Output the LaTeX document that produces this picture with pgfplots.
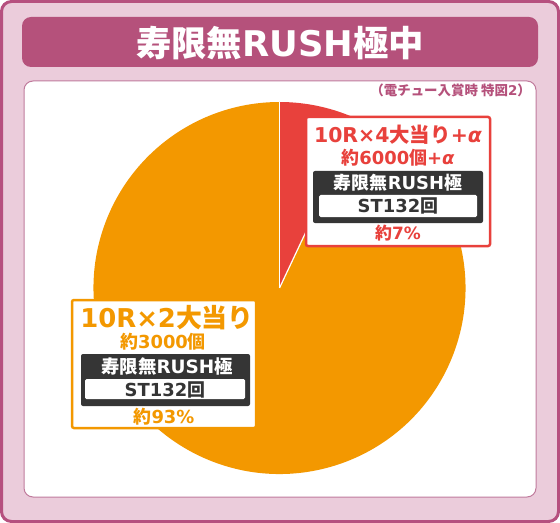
\documentclass[border=0pt]{standalone}
\usepackage{pgfplots}
\pgfplotsset{compat=1.18}
\usepackage{pgfplotstable}
\usepackage{fontspec}
\setmainfont{Noto Sans CJK JP}
\newfontfamily\latfont{DejaVu Sans}
\newcommand\la[1]{{\latfont\bfseries #1}}
\newcommand\alp{{\latfont\bfseries\itshape α}}

\definecolor{framebg}{HTML}{EBCCDB}
\definecolor{frameline}{HTML}{B6507F}
\definecolor{titlebar}{HTML}{B5517B}
\definecolor{panelline}{HTML}{C07A9C}
\definecolor{sliceorange}{HTML}{F39800}
\definecolor{slicered}{HTML}{E8413C}
\definecolor{darkbox}{HTML}{353535}

% share of each outcome, percent
\pgfplotstableread{
share
7
93
}\piedata

\begin{document}
\begin{tikzpicture}
\pgfplotstablegetelem{0}{share}\of\piedata
\pgfmathsetmacro\angA{90-3.6*\pgfplotsretval}
\pgfplotstablegetelem{1}{share}\of\piedata
\pgfmathsetmacro\angB{\angA-3.6*\pgfplotsretval}
\begin{axis}[x=1bp, y=1bp, xmin=0, xmax=560, ymin=0, ymax=523,
  y dir=reverse, hide axis, clip=false]
  % frame and title
  \filldraw[fill=framebg, draw=frameline, line width=3bp, rounded corners=10bp]
    (axis cs:1.5,1.5) rectangle (axis cs:558.5,521.5);
  \fill[titlebar, rounded corners=9bp] (axis cs:22,17) rectangle (axis cs:538,67);
  \node[text=white, inner sep=0, font=\fontsize{35.5}{35.5}\selectfont\bfseries]
    at (axis cs:280,43) {寿限無\la{RUSH}極中};
  \filldraw[fill=white, draw=panelline, line width=1bp, rounded corners=9bp]
    (axis cs:24,81) rectangle (axis cs:536,497);
  \node[text=titlebar, inner sep=0, anchor=east, font=\fontsize{13.5}{13.5}\selectfont\bfseries]
    at (axis cs:531,90) {（電チュー入賞時 特図\la{2}）};
  % pie
  \fill[sliceorange] (axis cs:279.5,288) -- ++(\angA:186bp)
    arc[start angle=\angA, end angle=\angB, radius=186bp] -- cycle;
  \fill[slicered] (axis cs:279.5,288) -- ++(90:186bp)
    arc[start angle=90, end angle=\angA, radius=186bp] -- cycle;
  \draw[white, line width=1.2bp] (axis cs:279.5,288) -- ++(90:186bp);
  \draw[white, line width=1.2bp] (axis cs:279.5,288) -- ++(\angA:186bp);
  % label 7%
  \filldraw[fill=white, draw=slicered, line width=2.5bp, rounded corners=2bp]
    (axis cs:306,117) rectangle (axis cs:490,246);
  \node[text=slicered, inner sep=0, font=\fontsize{20.5}{20.5}\selectfont\bfseries]
    at (axis cs:398,135) {\la{10R×4}大当り\la{+}\alp};
  \node[text=slicered, inner sep=0, font=\fontsize{18}{18}\selectfont\bfseries]
    at (axis cs:398,158) {約\la{6000}個\la{+}\alp};
  \fill[darkbox, rounded corners=2bp] (axis cs:313,171) rectangle (axis cs:483,223);
  \node[text=white, inner sep=0, font=\fontsize{18}{18}\selectfont\bfseries]
    at (axis cs:398,183) {寿限無\la{RUSH}極};
  \fill[white, rounded corners=1.5bp] (axis cs:319,195) rectangle (axis cs:477,217);
  \node[text=darkbox, inner sep=0, font=\fontsize{18}{18}\selectfont\bfseries]
    at (axis cs:398,206) {\la{ST132}回};
  \node[text=slicered, inner sep=0, font=\fontsize{17}{17}\selectfont\bfseries]
    at (axis cs:398,233) {約\la{7\%}};
  % label 93%
  \filldraw[fill=white, draw=sliceorange, line width=2.5bp, rounded corners=2bp]
    (axis cs:72,300) rectangle (axis cs:256,428);
  \node[text=sliceorange, inner sep=0, font=\fontsize{26}{26}\selectfont\bfseries]
    at (axis cs:167,318) {\la{10R×2}大当り};
  \node[text=sliceorange, inner sep=0, font=\fontsize{18}{18}\selectfont\bfseries]
    at (axis cs:163,342) {約\la{3000}個};
  \fill[darkbox, rounded corners=2bp] (axis cs:81,354) rectangle (axis cs:250,406);
  \node[text=white, inner sep=0, font=\fontsize{18.5}{18.5}\selectfont\bfseries]
    at (axis cs:167,366) {寿限無\la{RUSH}極};
  \fill[white, rounded corners=1.5bp] (axis cs:85,379) rectangle (axis cs:245,399);
  \node[text=darkbox, inner sep=0, font=\fontsize{18}{18}\selectfont\bfseries]
    at (axis cs:165,390) {\la{ST132}回};
  \node[text=sliceorange, inner sep=0, font=\fontsize{18}{18}\selectfont\bfseries]
    at (axis cs:164,417) {約\la{93\%}};
\end{axis}
\end{tikzpicture}
\end{document}
